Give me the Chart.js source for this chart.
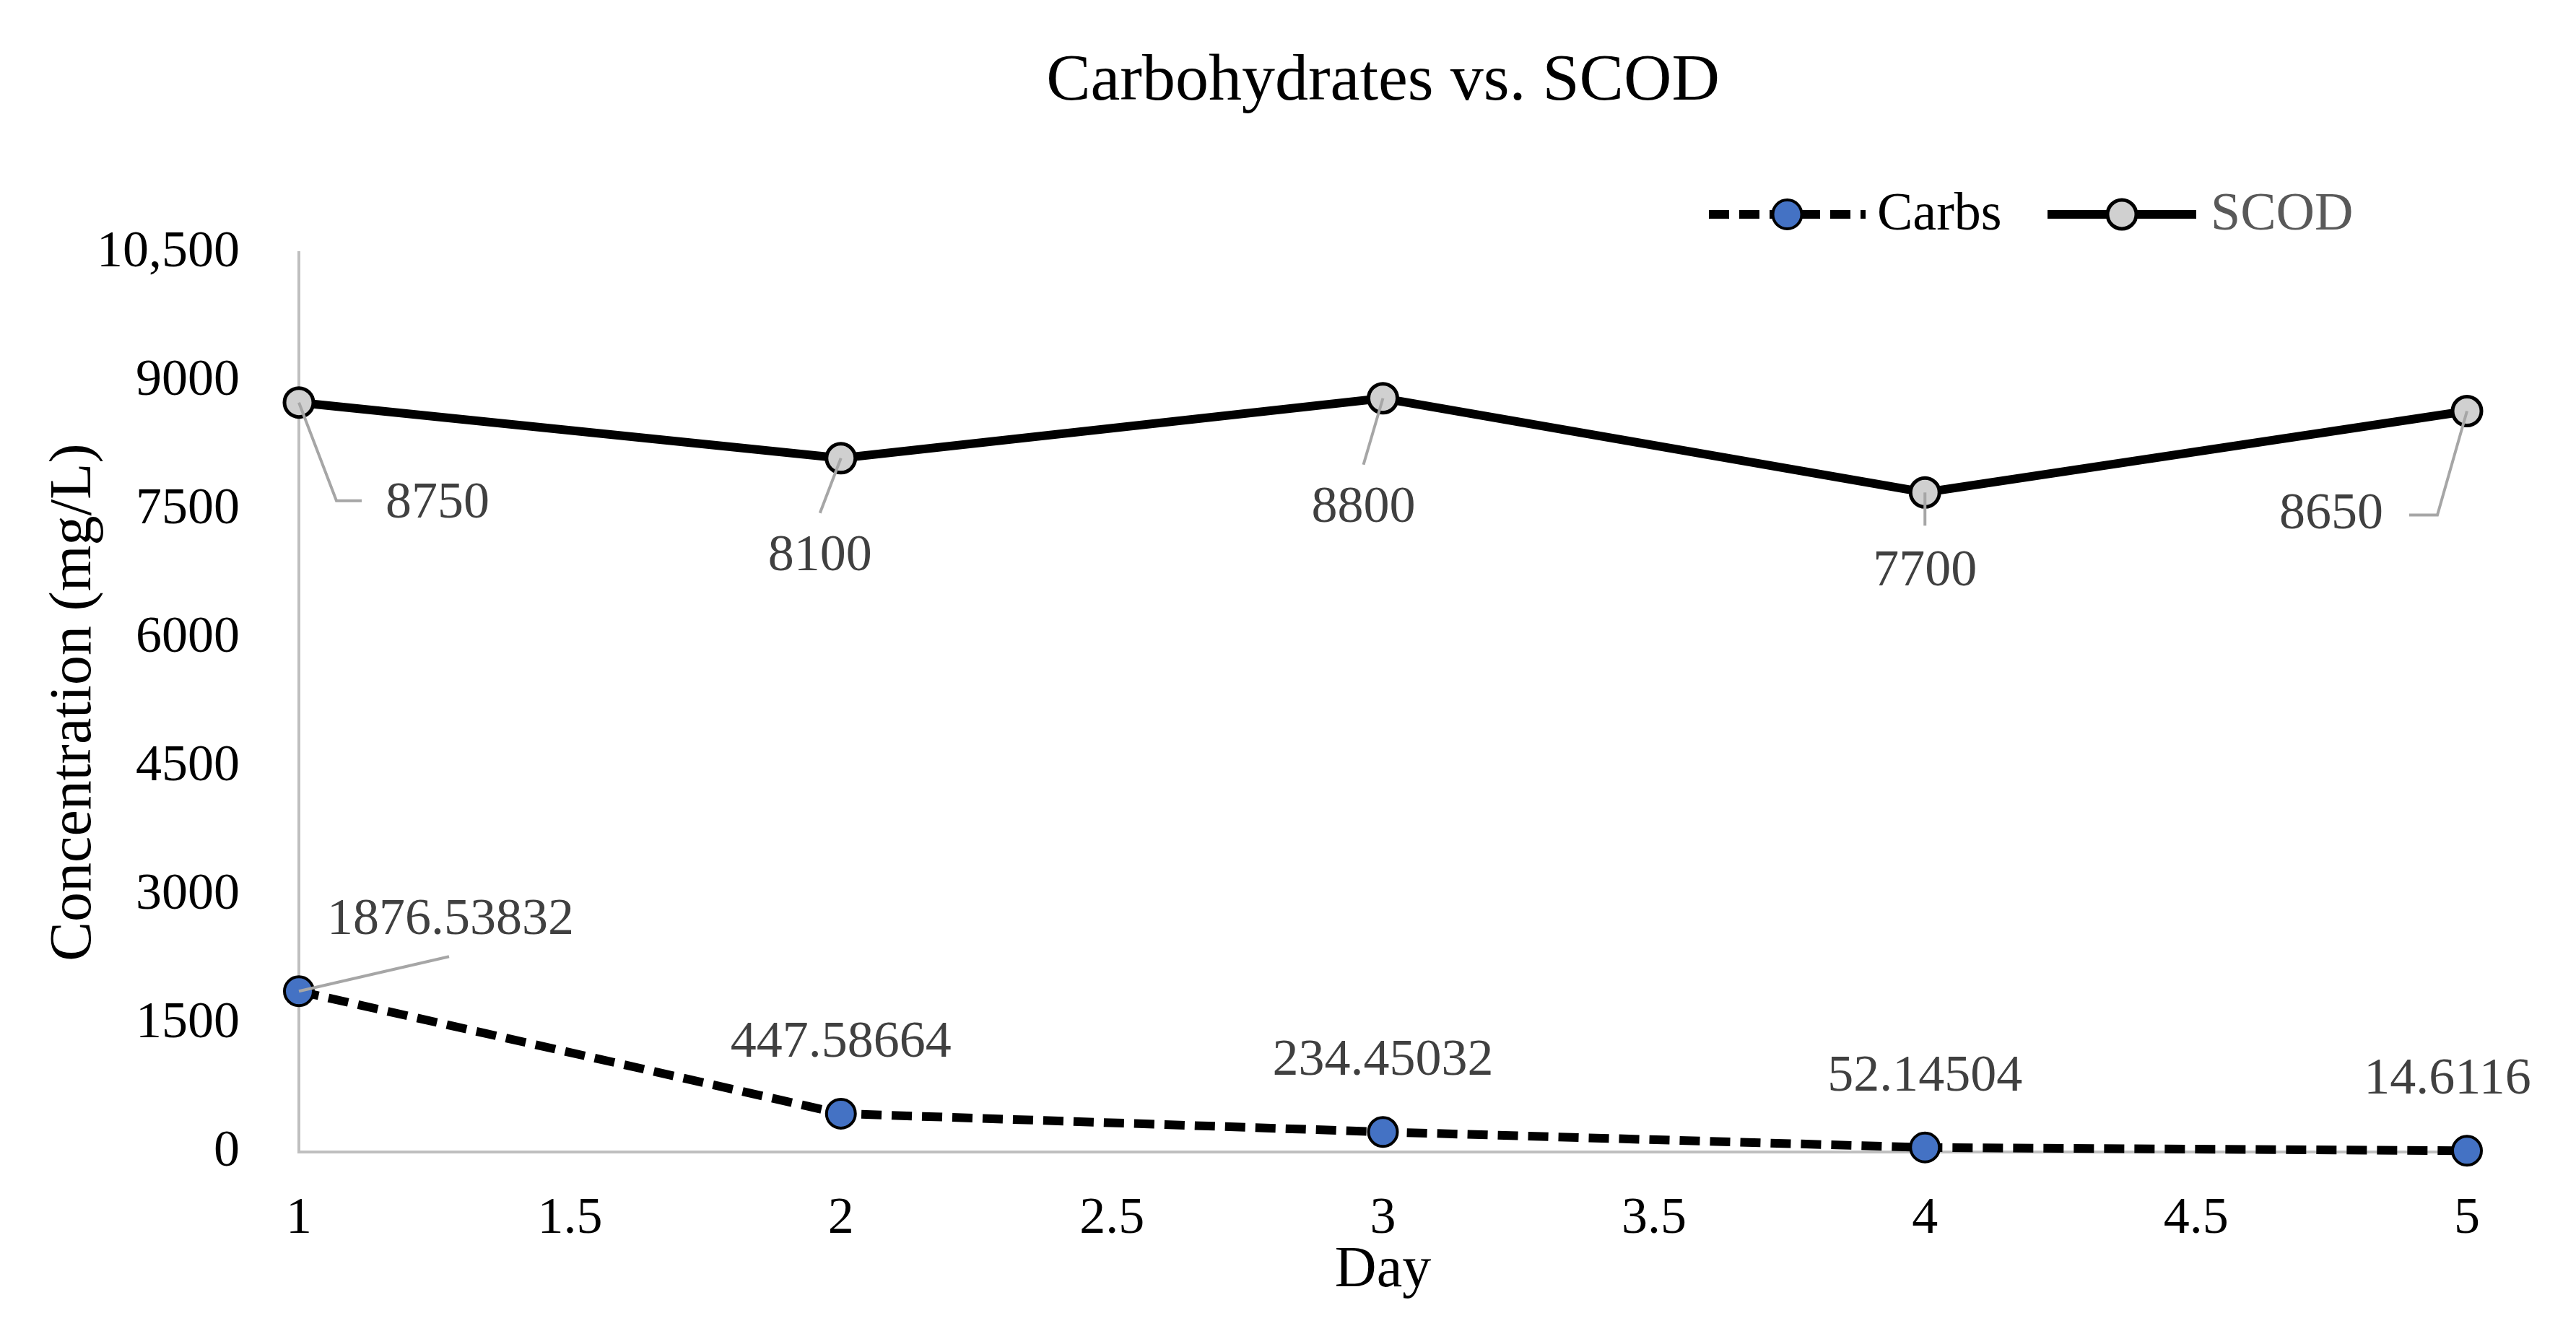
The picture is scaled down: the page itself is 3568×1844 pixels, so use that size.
<!DOCTYPE html>
<html>
<head>
<meta charset="utf-8">
<script src="https://cdn.jsdelivr.net/npm/chart.js@4/dist/chart.umd.min.js"></script>
<style>
html, body { margin: 0; padding: 0; background: #fff; }
</style>
</head>
<body>
<canvas id="chart" width="3568" height="1844"></canvas>
<script>
// data
const days = [1, 2, 3, 4, 5];
const carbs = [1876.53832, 447.58664, 234.45032, 52.14504, 14.6116];
const scod = [8750, 8100, 8800, 7700, 8650];
const xTickLabels = ['1', '1.5', '2', '2.5', '3', '3.5', '4', '4.5', '5'];
const yTickLabels = ['0', '1500', '3000', '4500', '6000', '7500', '9000', '10,500'];

// where each value label sits relative to its point, plus the leader lines
const carbsLabelPos = [[210, -98], [0, -98], [0, -98], [0, -98], [-27, -98]];
const carbsLeaders = [[[0, 0], [208, -48]], null, null, null, null];
const scodLabelPos = [[192, 140], [-29, 136], [-27, 152], [0, 110], [-188, 144]];
const scodLeaders = [
    [[0, 0], [52, 136], [87, 136]],
    [[0, 0], [-29, 76]],
    [[0, 0], [-27, 92]],
    [[0, 0], [0, 46]],
    [[0, 0], [-41, 144], [-80, 144]]
];

const FONT = "'Liberation Serif', 'Times New Roman', serif";
Chart.defaults.font.family = FONT;
Chart.defaults.color = '#000';

// value labels with grey leader lines, title and legend
const valueLabels = {
    id: 'valueLabels',
    afterDatasetsDraw(chart) {
        const ctx = chart.ctx;
        const sets = [[carbsLabelPos, carbsLeaders], [scodLabelPos, scodLeaders]];
        sets.forEach((s, di) => {
            const meta = chart.getDatasetMeta(di);
            const values = chart.data.datasets[di].data;
            meta.data.forEach((pt, i) => {
                ctx.save();
                const lead = s[1][i];
                if (lead) {
                    ctx.strokeStyle = '#a6a6a6';
                    ctx.lineWidth = 4;
                    ctx.beginPath();
                    lead.forEach((p, k) => {
                        if (k == 0) ctx.moveTo(pt.x + p[0], pt.y + p[1]);
                        else ctx.lineTo(pt.x + p[0], pt.y + p[1]);
                    });
                    ctx.stroke();
                }
                ctx.fillStyle = '#404040';
                ctx.font = '72px ' + FONT;
                ctx.textAlign = 'center';
                ctx.textBaseline = 'middle';
                ctx.fillText(String(values[i].y), pt.x + s[0][i][0], pt.y + s[0][i][1]);
                ctx.restore();
            });
        });
    },
    afterDraw(chart) {
        const ctx = chart.ctx;
        const area = chart.chartArea;
        ctx.save();
        // title
        ctx.fillStyle = '#000';
        ctx.font = '92px ' + FONT;
        ctx.textAlign = 'center';
        ctx.textBaseline = 'middle';
        ctx.fillText('Carbohydrates vs. SCOD', (area.left + area.right) / 2, 114);

        // legend: line + marker + text
        const items = [
            { ds: chart.data.datasets[0], x0: 2367, x1: 2584, tx: 2600, color: '#000' },
            { ds: chart.data.datasets[1], x0: 2836, x1: 3042, tx: 3062, color: '#595959' }
        ];
        const ly = 297;
        items.forEach(it => {
            ctx.save();
            ctx.strokeStyle = it.ds.borderColor;
            ctx.lineWidth = it.ds.borderWidth;
            ctx.setLineDash(it.ds.borderDash || []);
            ctx.beginPath();
            ctx.moveTo(it.x0, ly);
            ctx.lineTo(it.x1, ly);
            ctx.stroke();
            ctx.setLineDash([]);
            ctx.beginPath();
            ctx.arc((it.x0 + it.x1) / 2, ly, it.ds.pointRadius, 0, Math.PI * 2);
            ctx.fillStyle = it.ds.pointBackgroundColor;
            ctx.fill();
            ctx.lineWidth = it.ds.pointBorderWidth;
            ctx.strokeStyle = it.ds.pointBorderColor;
            ctx.stroke();
            ctx.fillStyle = it.color;
            ctx.font = '74px ' + FONT;
            ctx.textAlign = 'left';
            ctx.textBaseline = 'middle';
            ctx.fillText(it.ds.label, it.tx, ly + 2);
            ctx.restore();
        });
        ctx.restore();
    }
};

new Chart(document.getElementById('chart'), {
    type: 'line',
    data: {
        datasets: [{
            label: 'Carbs',
            data: days.map((d, i) => ({ x: d, y: carbs[i] })),
            borderColor: '#000',
            borderWidth: 12,
            borderDash: [28, 14],
            pointRadius: 20,
            pointBackgroundColor: '#4472c4',
            pointBorderColor: '#000',
            pointBorderWidth: 4,
            tension: 0,
            clip: false
        }, {
            label: 'SCOD',
            data: days.map((d, i) => ({ x: d, y: scod[i] })),
            borderColor: '#000',
            borderWidth: 12,
            pointRadius: 20,
            pointBackgroundColor: '#d0d0d0',
            pointBorderColor: '#000',
            pointBorderWidth: 5,
            tension: 0,
            clip: false
        }]
    },
    options: {
        responsive: false,
        devicePixelRatio: 1,
        animation: false,
        layout: { padding: { top: 350, right: 151, bottom: 0, left: 0 } },
        plugins: {
            legend: { display: false },
            title: { display: false },
            tooltip: { enabled: false }
        },
        scales: {
            x: {
                type: 'linear',
                min: 1,
                max: 5,
                grid: { display: false, drawTicks: false },
                border: { display: true, color: '#bfbfbf', width: 4 },
                ticks: {
                    stepSize: 0.5,
                    padding: 50,
                    font: { size: 72 },
                    color: '#000',
                    maxRotation: 0,
                    callback: (v, i) => xTickLabels[i]
                },
                title: {
                    display: true,
                    text: 'Day',
                    font: { size: 80 },
                    color: '#000',
                    padding: { top: 0, bottom: 35 }
                },
                afterFit: s => { s.height = 248; }
            },
            y: {
                min: 0,
                max: 10500,
                grid: { display: false, drawTicks: false },
                border: { display: true, color: '#bfbfbf', width: 4 },
                ticks: {
                    stepSize: 1500,
                    padding: 82,
                    font: { size: 72 },
                    color: '#000',
                    callback: (v, i) => yTickLabels[i]
                },
                title: {
                    display: true,
                    text: 'Concentration (mg/L)',
                    font: { size: 82 },
                    color: '#000',
                    padding: { top: 54, bottom: 0 }
                },
                afterFit: s => { s.width = 414; }
            }
        }
    },
    plugins: [valueLabels]
});
</script>
</body>
</html>
